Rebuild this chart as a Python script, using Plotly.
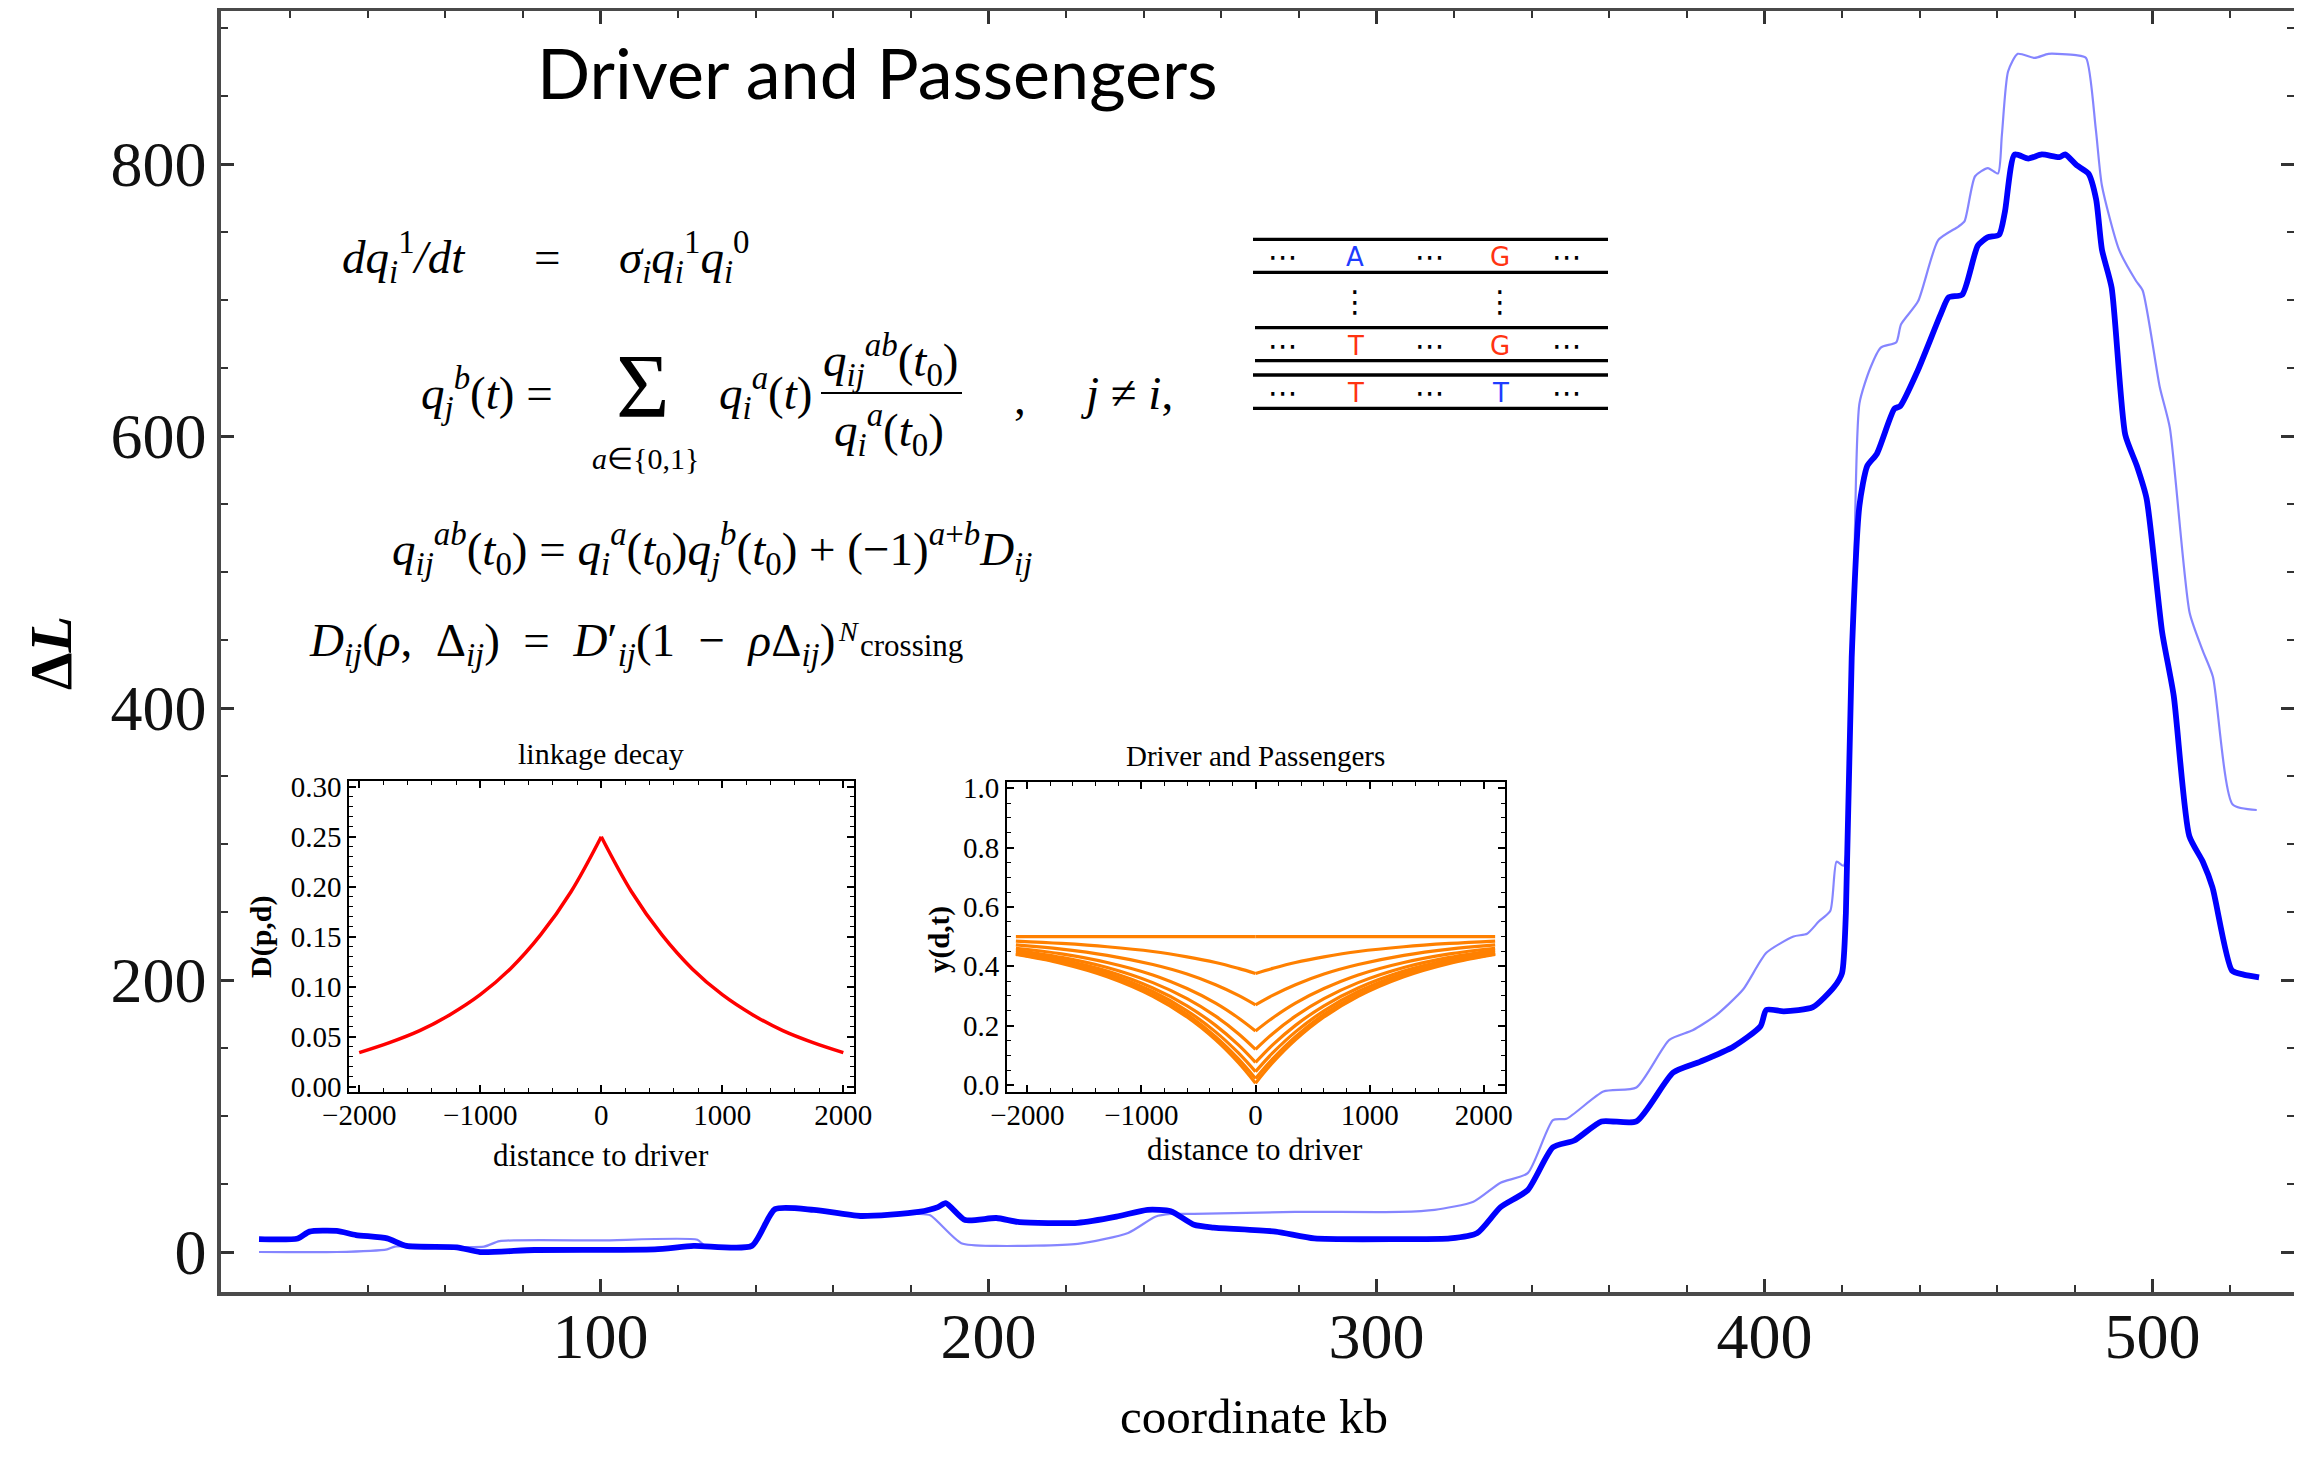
import plotly.graph_objects as go

# ---------------- data ----------------
coord_thick = [12, 22, 25, 32, 37, 45, 50, 63, 69, 83, 114, 124, 139, 145, 155, 167, 182, 187, 189, 194,
               202, 208, 223, 233, 241, 247, 253, 258, 274, 284, 306, 319, 326, 332, 339, 345.5, 351, 358, 367, 376.5,
               383.5, 392, 399, 400.5, 405, 412.5, 418, 420, 421, 422.5, 424.5, 426.5, 429, 433.5, 435, 439.5, 445.5, 447.5, 451, 455,
               457.5, 460.5, 462, 464.5, 468, 471.5, 476, 477.5, 480.5, 483.5, 485.5, 487, 489.5, 493, 496, 498.5, 502.5, 505.5, 509.5, 513,
               515.5, 520.5, 523.5, 527.5]
dL_thick = [9.5, 10, 15, 15.5, 12.5, 10, 4.5, 3.5, 0, 1.5, 2, 4.5, 4.5, 31.5, 31, 26.5, 29.5, 33, 36, 23.5,
            25, 22, 21.5, 26, 31, 30, 20, 18, 15, 10, 9.5, 10, 14, 33, 45.5, 77, 82, 96, 96, 132,
            140, 151, 166, 178, 177, 180, 195, 205, 249, 437, 549, 578, 587, 620, 622, 648, 690, 702, 704, 740,
            746, 748, 765, 807, 804, 807, 805, 807, 799, 793, 774, 737, 709, 601, 578, 554, 456, 409, 306, 287,
            268, 207, 204, 202]

coord_thin = [12, 32, 45, 47, 70, 74, 100, 125, 127, 139, 145, 155, 167, 182, 185, 193, 202, 223, 236, 243,
              247, 253, 279, 306, 315, 325, 332, 339, 345.5, 349, 358.5, 367, 375.5, 381.5, 387.5, 394.5, 400.5, 407.5, 411, 414,
              417, 418.6, 420.4, 423, 424.5, 427.3, 430, 434, 435.2, 439.6, 444.8, 450, 451.6, 454.3, 457.6, 460.2, 461.2, 462.8, 465.3, 469.7,
              473.2, 480.3, 482.9, 485.4, 487, 491.4, 495.8, 497.5, 501.9, 504.5, 509.6, 513, 515.6, 520.7, 526.9]
dL_thin = [0, 0, 2, 4, 4, 8, 8.5, 9, 4.5, 4.5, 31, 30.5, 26.5, 28, 27, 6.5, 4.5, 6, 14, 26,
           28, 28, 29.5, 29.5, 31, 37, 51, 58, 97, 98, 118, 121, 156, 163, 174, 193, 220, 232, 234, 243,
           251, 287, 284, 484, 624, 650, 665, 669, 682, 699, 744, 754, 758, 791, 797, 793, 821, 868, 881, 878,
           881, 880, 878, 826, 784, 737, 714, 707, 636, 606, 470, 442, 423, 329, 325]

main_xticks = [100, 200, 300, 400, 500]
main_yticks = [0, 200, 400, 600, 800]

# inset 1: linkage decay, half profile from the driver outwards (symmetric curve)
decay_d_half = [0, 250, 500, 750, 1000, 1250, 1500, 1750, 2000]
decay_D_half = [0.25, 0.195, 0.152, 0.118, 0.092, 0.072, 0.056, 0.044, 0.034]
inset1_xticks = [-2000, -1000, 0, 1000, 2000]
inset1_yticks = [0.0, 0.05, 0.10, 0.15, 0.20, 0.25, 0.30]
inset1_yticktext = ["0.00", "0.05", "0.10", "0.15", "0.20", "0.25", "0.30"]

# inset 2: driver and passengers, half profiles from the driver outwards (symmetric curves)
pass_d_half = [0, 150, 350, 600, 900, 1300, 1700, 2100]
pass_y_t0 = [0.5, 0.5, 0.5, 0.5, 0.5, 0.5, 0.5, 0.5]
pass_y_t1 = [0.376, 0.393, 0.413, 0.432, 0.450, 0.466, 0.477, 0.485]
pass_y_t2 = [0.270, 0.302, 0.338, 0.374, 0.406, 0.437, 0.458, 0.472]
pass_y_t3 = [0.182, 0.226, 0.276, 0.325, 0.371, 0.413, 0.442, 0.461]
pass_y_t4 = [0.120, 0.173, 0.232, 0.291, 0.345, 0.396, 0.430, 0.454]
pass_y_t5 = [0.076, 0.135, 0.201, 0.267, 0.327, 0.384, 0.422, 0.448]
pass_y_t6 = [0.045, 0.108, 0.179, 0.250, 0.315, 0.376, 0.417, 0.444]
pass_y_t7 = [0.022, 0.088, 0.163, 0.238, 0.305, 0.370, 0.413, 0.442]
pass_y_t8 = [0.006, 0.075, 0.152, 0.229, 0.299, 0.365, 0.410, 0.440]
inset2_xticks = [-2000, -1000, 0, 1000, 2000]
inset2_yticks = [0.0, 0.2, 0.4, 0.6, 0.8, 1.0]

# ---------------- layout geometry (screen pixels; page body has an 8px margin) ----------------
OFF = 8
W, H = 2302 - 2 * OFF, 1457 - 2 * OFF
L, R, T, B = 221, 2294, 11, 1292   # plot frame on screen


def px(x):
    return (x - L) / (R - L)


def py(y):
    return (B - y) / (B - T)


def mirrored(xh, yh):
    xs = [-d for d in xh[::-1]] + [None] + list(xh)
    ys = list(yh[::-1]) + [None] + list(yh)
    return xs, ys


SERIF = "Liberation Serif"
fig = go.Figure()

# main curves
fig.add_trace(go.Scatter(x=coord_thin, y=dL_thin, mode="lines",
                         line=dict(color="rgba(0,0,255,0.48)", width=2.2, shape="spline", smoothing=0.6),
                         showlegend=False))
fig.add_trace(go.Scatter(x=coord_thick, y=dL_thick, mode="lines",
                         line=dict(color="rgb(0,0,255)", width=5.8, shape="spline", smoothing=0.6),
                         showlegend=False))

# inset 1
xs, ys = mirrored(decay_d_half, decay_D_half)
fig.add_trace(go.Scatter(x=xs, y=ys, mode="lines", connectgaps=False,
                         line=dict(color="#ff0000", width=3.5, shape="spline"),
                         xaxis="x2", yaxis="y2", showlegend=False))

# inset 2
for prof in [pass_y_t0, pass_y_t1, pass_y_t2, pass_y_t3, pass_y_t4, pass_y_t5, pass_y_t6, pass_y_t7, pass_y_t8]:
    xs, ys = mirrored(pass_d_half, prof)
    fig.add_trace(go.Scatter(x=xs, y=ys, mode="lines", connectgaps=False,
                             line=dict(color="#ff8000", width=3.2, shape="spline"),
                             xaxis="x3", yaxis="y3", showlegend=False))

frame = "#4a4a4a"
main_axis = dict(showgrid=False, zeroline=False, showline=True, linecolor=frame, linewidth=3.5, mirror="allticks",
                 ticks="inside", ticklen=13, tickwidth=2.5, tickcolor="#333", automargin=False,
                 tickfont=dict(family=SERIF, size=64, color="#111"))

inset_axis = dict(showgrid=False, zeroline=False, showline=True, linecolor="black", linewidth=2, mirror="allticks",
                  ticks="inside", ticklen=7, tickwidth=1.5, tickcolor="black", automargin=False,
                  tickfont=dict(family=SERIF, size=29, color="black"))

d1x = [px(349.4), px(853.5)]
d1y = [py(1092.3), py(781)]
d2x = [px(1007), px(1505.3)]
d2y = [py(1091.7), py(782.3)]

fig.update_layout(
    width=W, height=H, paper_bgcolor="white", plot_bgcolor="white",
    margin=dict(l=L - OFF, r=W - (R - OFF), t=T - OFF, b=H - (B - OFF), autoexpand=False),
    xaxis=dict(main_axis, range=[2.2, 536.5], tickvals=main_xticks, ticklabelstandoff=-15,
               minor=dict(dtick=20, tick0=0, ticks="inside", ticklen=7, tickwidth=2, tickcolor="#333")),
    yaxis=dict(main_axis, range=[-29.4, 912.5], tickvals=main_yticks, ticklabelstandoff=-2,
               minor=dict(dtick=50, tick0=0, ticks="inside", ticklen=7, tickwidth=2, tickcolor="#333")),
    xaxis2=dict(inset_axis, domain=d1x, anchor="y2", range=[-2081, 2084], tickvals=inset1_xticks,
                ticktext=["\u22122000", "\u22121000", "0", "1000", "2000"], ticklabelstandoff=-4,
                minor=dict(dtick=200, tick0=0, ticks="inside", ticklen=4, tickwidth=1.2, tickcolor="black")),
    yaxis2=dict(inset_axis, domain=d1y, anchor="x2", range=[-0.0056, 0.3057], tickvals=inset1_yticks,
                ticktext=inset1_yticktext, ticklabelstandoff=0,
                minor=dict(dtick=0.01, tick0=0, ticks="inside", ticklen=4, tickwidth=1.2, tickcolor="black")),
    xaxis3=dict(inset_axis, domain=d2x, anchor="y3", range=[-2178, 2189], tickvals=inset2_xticks,
                ticktext=["\u22122000", "\u22121000", "0", "1000", "2000"], ticklabelstandoff=-4,
                minor=dict(dtick=200, tick0=0, ticks="inside", ticklen=4, tickwidth=1.2, tickcolor="black")),
    yaxis3=dict(inset_axis, domain=d2y, anchor="x3", range=[-0.0226, 1.0202], tickvals=inset2_yticks,
                ticktext=["0.0", "0.2", "0.4", "0.6", "0.8", "1.0"], ticklabelstandoff=0,
                minor=dict(dtick=0.05, tick0=0, ticks="inside", ticklen=4, tickwidth=1.2, tickcolor="black")),
)

ann = []


def text(x, y, s, size, family=SERIF, color="black", xanchor="center", yanchor="middle", angle=0):
    ann.append(dict(x=px(x), y=py(y), xref="paper", yref="paper", text=s, showarrow=False,
                    xanchor=xanchor, yanchor=yanchor, textangle=angle,
                    font=dict(family=family, size=size, color=color)))


# titles / axis labels
text(877, 72, "Driver and Passengers", 70, family="Lato")
text(1254, 1416, "coordinate kb", 49)
text(51, 653, "<b>\u0394<i>L</i></b>", 60, angle=-90)

# inset titles and labels
text(601, 753, "linkage decay", 30)
text(601, 1155, "distance to driver", 31)
text(261, 937, "<b>D(p,d)</b>", 30, angle=-90)
text(1255, 756, "Driver and Passengers", 29)
text(1255, 1149, "distance to driver", 31)
text(940, 940, "<b>y(d,t)</b>", 29, angle=-90)

# equations
EQ = 47
EN = "\u2002"
text(340, 257, "<i>dq</i><sub><i>i</i></sub><sup>1</sup><i>/dt</i>", EQ, xanchor="left")
text(547, 257, "=", EQ)
text(617, 257, "<i>\u03c3</i><sub><i>i</i></sub><i>q</i><sub><i>i</i></sub><sup>1</sup><i>q</i><sub><i>i</i></sub><sup>0</sup>", EQ, xanchor="left")

text(419, 393, "<i>q</i><sub><i>j</i></sub><sup><i>b</i></sup>(<i>t</i>) =", EQ, xanchor="left")
text(643, 386, "\u03a3", 92, yanchor="middle")
text(645, 458, "<i>a</i>\u2208{0,1}", 30)
text(717, 393, "<i>q</i><sub><i>i</i></sub><sup><i>a</i></sup>(<i>t</i>)", EQ, xanchor="left")
text(891, 360, "<i>q</i><sub><i>ij</i></sub><sup><i>ab</i></sup>(<i>t</i><sub>0</sub>)", EQ)
text(889, 430, "<i>q</i><sub><i>i</i></sub><sup><i>a</i></sup>(<i>t</i><sub>0</sub>)", EQ)
text(1020, 398, ",", EQ)
text(1078, 393, "<i>j</i> \u2260 <i>i</i>,", EQ, xanchor="left")

text(390, 549, "<i>q</i><sub><i>ij</i></sub><sup><i>ab</i></sup>(<i>t</i><sub>0</sub>) = <i>q</i><sub><i>i</i></sub><sup><i>a</i></sup>(<i>t</i><sub>0</sub>)"
     "<i>q</i><sub><i>j</i></sub><sup><i>b</i></sup>(<i>t</i><sub>0</sub>) + (\u22121)<sup><i>a</i>+<i>b</i></sup><i>D</i><sub><i>ij</i></sub>",
     EQ, xanchor="left")
text(307, 643, "<i>D</i><sub><i>ij</i></sub>(<i>\u03c1</i>," + EN + "\u0394<sub><i>ij</i></sub>)" + EN + "=" + EN +
     "<i>D</i>\u2032<sub><i>ij</i></sub>(1" + EN + "\u2212" + EN + "<i>\u03c1</i>\u0394<sub><i>ij</i></sub>)",
     EQ, xanchor="left")
text(848, 631, "<i>N</i>", 28)
text(858, 645, "crossing", 31, xanchor="left")

# DNA diagram
BLUE = "#1e3cff"
RED = "#ff3311"
rows = [(256.7, [("A", BLUE), ("G", RED)]), (346, [("T", RED), ("G", RED)]), (392.7, [("T", RED), ("T", BLUE)])]
for yy, letters in rows:
    for xx in (1283, 1430, 1567):
        text(xx, yy, "\u22ef", 30, family="DejaVu Sans")
    for (ch, col), xx in zip(letters, (1355, 1500)):
        text(xx, yy, ch, 26, family="DejaVu Sans", color=col)
for xx in (1355, 1500):
    text(xx, 301, "\u22ee", 30, family="DejaVu Sans")

shapes = []
for yy, x0 in [(239.3, 1253), (272.3, 1253), (327.7, 1255), (360.7, 1255), (375, 1253), (408.3, 1253)]:
    shapes.append(dict(type="line", xref="paper", yref="paper", x0=px(x0), x1=px(1608), y0=py(yy), y1=py(yy),
                       line=dict(color="black", width=3.3)))
# fraction bar
shapes.append(dict(type="line", xref="paper", yref="paper", x0=px(821), x1=px(962), y0=py(393), y1=py(393),
                   line=dict(color="black", width=2)))

fig.update_layout(annotations=ann, shapes=shapes)
fig.write_html("out.html")
